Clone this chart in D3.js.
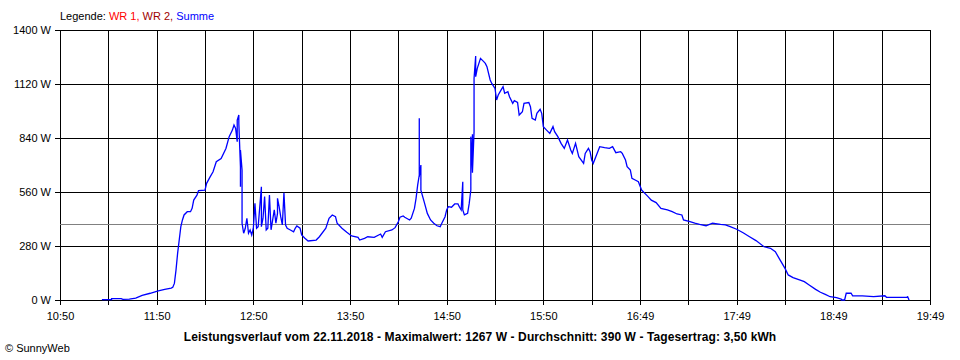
<!DOCTYPE html>
<html><head><meta charset="utf-8">
<script src="https://cdn.jsdelivr.net/npm/d3@7"></script>
<style>
body{margin:0;background:#fff}
svg{display:block;font-family:"Liberation Sans",Arial,sans-serif}
</style>
</head><body>
<svg id="c" width="960" height="360"></svg>
<script>
const xTickLabels = ["10:50","11:50","12:50","13:50","14:50","15:50","16:49","17:49","18:49","19:49"];
const yTicks = [0, 280, 560, 840, 1120, 1400];
const average = 390;
const legendItems = [
  {label: "WR 1, ", color: "#ff0000"},
  {label: "WR 2, ", color: "#a00000"},
  {label: "Summe", color: "#0000ff"}
];
const titleText = "Leistungsverlauf vom 22.11.2018 - Maximalwert: 1267 W - Durchschnitt: 390 W - Tagesertrag: 3,50 kWh";

const times = ["11:16","11:22","11:22","11:28","11:29","11:33","11:37","11:41","11:46","11:51","11:55","11:59",
"12:00","12:01","12:02","12:03","12:04","12:05","12:06","12:07","12:09","12:11","12:12","12:13","12:15","12:16",
"12:20","12:21","12:23","12:25","12:27","12:30","12:33","12:35","12:37","12:38","12:39","12:40","12:40","12:41",
"12:41","12:42","12:42","12:42","12:43","12:43","12:44","12:45","12:46","12:47","12:48","12:49","12:50","12:51",
"12:52","12:53","12:55","12:55","12:56","12:57","12:58","12:59","13:00","13:01","13:02","13:03","13:04","13:05",
"13:05","13:06","13:07","13:08","13:09","13:10","13:11","13:13","13:15","13:16","13:17","13:19","13:20","13:22",
"13:24","13:29","13:31","13:35","13:37","13:39","13:41","13:42","13:45","13:48","13:51","13:55","13:56","13:59",
"14:01","14:05","14:09","14:10","14:12","14:16","14:18","14:20","14:21","14:23","14:24","14:27","14:28","14:30",
"14:31","14:32","14:33","14:33","14:33","14:34","14:34","14:36","14:38","14:40","14:42","14:44","14:46","14:47",
"14:49","14:50","14:51","14:53","14:55","14:57","14:58","14:59","15:00","15:00","15:01","15:03","15:04","15:05",
"15:05","15:06","15:06","15:06","15:07","15:07","15:08","15:08","15:09","15:10","15:11","15:13","15:14","15:15",
"15:17","15:18","15:20","15:21","15:22","15:24","15:25","15:26","15:28","15:29","15:31","15:32","15:34","15:35",
"15:37","15:38","15:41","15:42","15:43","15:45","15:46","15:48","15:49","15:50","15:52","15:54","15:56","15:57",
"15:59","16:01","16:03","16:05","16:07","16:08","16:10","16:12","16:15","16:16","16:18","16:19","16:20","16:21",
"16:23","16:25","16:28","16:31","16:33","16:35","16:38","16:39","16:41","16:42","16:44","16:45","16:47","16:49",
"16:51","16:53","16:55","16:57","17:00","17:03","17:07","17:10","17:13","17:16","17:17","17:21","17:24","17:27",
"17:31","17:35","17:40","17:43","17:46","17:50","17:54","17:58","18:02","18:07","18:11","18:14","18:17","18:20",
"18:22","18:25","18:29","18:32","18:35","18:39","18:42","18:45","18:48","18:52","18:55","18:55","18:57","18:58",
"19:01","19:02","19:08","19:15","19:22","19:23","19:36","19:36","19:37"];

const power = [2,2,7,7,3,5,10,24,35,47,55,62,
66,86,155,242,311,380,415,441,458,458,475,518,544,567,
570,605,636,665,717,734,786,847,881,907,890,821,933,959,
916,691,587,778,674,398,346,372,424,346,363,337,372,501,
372,380,587,380,424,536,363,372,544,364,415,467,398,449,
527,484,432,389,556,389,372,363,354,372,384,372,337,320,
306,311,328,372,424,441,432,398,372,351,332,325,311,320,
328,325,342,325,354,363,375,406,429,436,429,415,424,475,
527,596,648,942,640,700,570,510,449,415,398,385,380,398,
432,467,484,481,498,498,481,467,613,467,441,449,501,570,
847,665,860,660,873,1149,1265,1158,1201,1227,1253,1236,1227,1210,
1141,1123,1097,1037,1063,1092,1106,1072,1080,1054,1020,1034,1024,959,
976,1020,1024,1002,942,933,968,989,968,899,881,864,899,873,
847,812,786,830,778,760,812,743,709,760,786,769,726,709,
752,795,790,786,795,764,769,760,726,691,674,631,622,613,
570,553,536,518,505,475,467,458,446,441,415,406,398,392,
385,398,392,389,380,367,349,328,308,276,268,250,207,164,
130,116,104,95,78,55,40,29,17,12,4,0,0,35,
35,22,21,17,22,14,14,20,0];

const startMin = 10*60 + 50;
const toMin = s => { const [h, m] = s.split(":").map(Number); return h*60 + m - startMin; };
const data = times.map((t, i) => ({t: toMin(t), v: power[i]}));

const svg = d3.select("#c");
const L = 60, R = 930, T = 30, B = 300;
const x = d3.scaleLinear().domain([0, 540]).range([L, R]);
const y = d3.scaleLinear().domain([0, 1400]).range([B, T]);

// Y axis + horizontal grid
const yAxis = d3.axisLeft(y).tickValues(yTicks).tickFormat(d => d + " W")
  .tickSizeInner(-(R - L + 5)).tickSizeOuter(0).tickPadding(4);
const gy = svg.append("g").attr("transform", `translate(${L - 5},0)`).call(yAxis);
gy.select(".domain").remove();
gy.selectAll("line").attr("stroke", "#000").attr("shape-rendering", "crispEdges");
gy.selectAll("text").attr("font-size", 11).attr("fill", "#000");

// X axis + vertical grid
const xTickVals = d3.range(0, 541, 30);
const xAxis = d3.axisBottom(x).tickValues(xTickVals)
  .tickFormat(d => d % 60 === 0 ? xTickLabels[d / 60] : "")
  .tickSizeInner(-(B - T + 5)).tickSizeOuter(0).tickPadding(7);
const gx = svg.append("g").attr("transform", `translate(0,${B + 5})`).call(xAxis);
gx.select(".domain").remove();
gx.selectAll("line").attr("stroke", "#000").attr("shape-rendering", "crispEdges");
gx.selectAll("text").attr("font-size", 11).attr("fill", "#000");

// average line
svg.append("line").attr("x1", L).attr("x2", R).attr("y1", y(average)).attr("y2", y(average))
  .attr("stroke", "#808080").attr("shape-rendering", "crispEdges");

// data line
const line = d3.line().x(d => x(d.t)).y(d => y(d.v));
svg.append("path").datum(data).attr("d", line)
  .attr("fill", "none").attr("stroke", "#0000ff").attr("stroke-width", 1.3)
  .attr("stroke-linejoin", "miter");

// legend
const lg = svg.append("text").attr("x", 60).attr("y", 20).attr("font-size", 11);
lg.append("tspan").attr("fill", "#000").text("Legende: ");
legendItems.forEach(it => lg.append("tspan").attr("fill", it.color).text(it.label));

// title
svg.append("text").attr("x", 480).attr("y", 341).attr("text-anchor", "middle")
  .attr("font-size", 12).attr("letter-spacing", 0.1).attr("font-weight", "bold").attr("fill", "#000").text(titleText);

// copyright
svg.append("text").attr("x", 5).attr("y", 352).attr("font-size", 11).attr("fill", "#000").text("© SunnyWeb");
</script>
</body></html>
